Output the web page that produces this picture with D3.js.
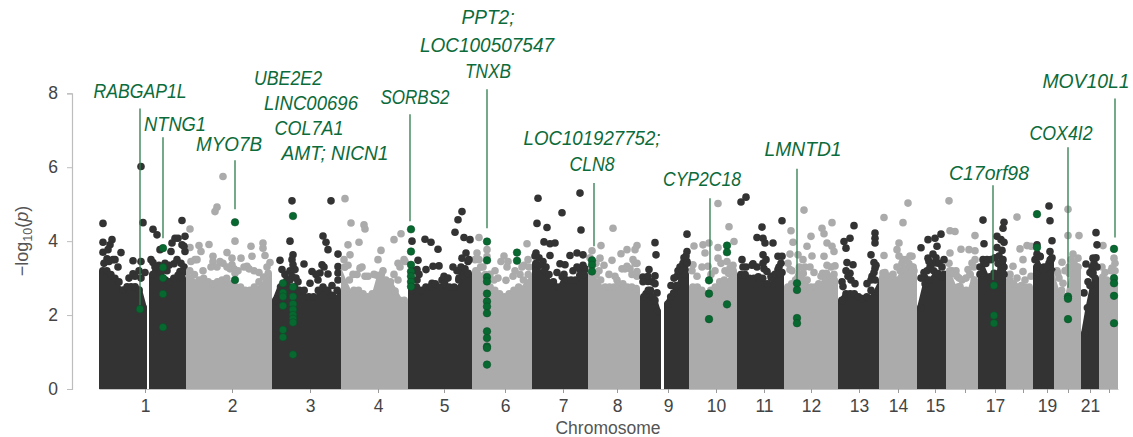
<!DOCTYPE html>
<html>
<head>
<meta charset="utf-8">
<script src="https://cdn.jsdelivr.net/npm/d3@7"></script>
<style>
  body { margin: 0; background: #fff; }
  svg { display: block; }
  text { font-family: "Liberation Sans", sans-serif; }
</style>
</head>
<body>
<svg class="manhattan" width="1133" height="437"></svg>
<script>
// genome position is in bins along the x axis, p values as -log10(p)
const tickBins = [46, 133, 211, 279, 345, 406, 464, 518, 569, 617, 665, 712, 760, 799, 836, 866, 896, 924, 948, 969, 991, 1010];
const tickNames = ['1', '2', '3', '4', '5', '6', '7', '8', '9', '10', '11', '12', '13', '14', '15', '', '17', '', '19', '', '21', ''];
const yTicks = [0, 2, 4, 6, 8];

// one entry per contiguous run of SNPs, chr 1 and 9 split at the centromere gap
const segChr = [1, 1, 2, 3, 4, 5, 6, 7, 8, 9, 9, 10, 11, 12, 13, 14, 15, 16, 17, 18, 19, 20, 21, 22];
const segStart = [0, 50, 87, 173, 242, 309, 373, 433, 489, 541, 565, 590, 638, 685, 739, 780, 818, 847, 879, 907, 934, 955, 982, 1000];
const segEnd = [48, 87, 173, 242, 309, 373, 433, 489, 541, 562, 590, 638, 685, 739, 780, 818, 847, 879, 907, 934, 955, 982, 1000, 1019];
const segTops = [
  [3.3, 3.3, 3.2, 3.1, 3.0, 2.78, 2.87, 2.87, 2.87, 2.78, 2.3],
  [3.2, 3.4, 3.3, 3.05, 3.0, 3.1, 3.18, 3.1],
  [3.3, 3.2, 3.05, 3.1, 3.0, 2.95, 3.0, 3.05, 3.1, 2.95, 2.86, 2.86, 2.77, 2.77, 2.86, 3.0, 3.13, 3.23],
  [2.5, 2.86, 2.95, 3.05, 2.86, 2.77, 2.77, 2.6, 2.6, 2.77, 2.86, 2.77, 2.64, 2.77],
  [3.4, 3.05, 2.77, 2.77, 2.68, 2.6, 2.68, 3.18, 3.2, 3.05, 3.0, 2.75, 2.5, 2.5],
  [2.77, 2.86, 2.77, 2.86, 2.86, 2.95, 2.86, 2.95, 2.86, 2.86, 3.05, 3.14, 3.23],
  [3.3, 3.4, 3.2, 2.86, 2.77, 2.68, 2.6, 2.68, 2.77, 2.86, 3.05, 3.2],
  [3.5, 3.45, 3.3, 3.2, 3.0, 2.86, 3.14, 3.05, 3.05, 3.05, 3.18, 3.2],
  [3.4, 3.2, 3.05, 2.86, 2.86, 2.86, 2.95, 2.95, 2.86, 2.86, 2.82],
  [2.6, 2.68, 2.77, 2.77, 2.6, 2.5, 2.2],
  [2.4, 2.6, 2.7, 2.9, 3.3, 3.3, 3.2],
  [2.86, 2.86, 2.77, 2.68, 2.77, 2.86, 3.0, 3.05, 3.23, 3.3],
  [3.2, 3.2, 3.1, 3.1, 3.14, 3.1, 2.95, 3.1, 3.2, 3.23],
  [2.86, 2.95, 3.05, 3.4, 3.23, 3.05, 2.86, 2.86, 2.95, 3.23, 3.23, 3.13, 3.05],
  [2.5, 2.68, 2.68, 2.68, 2.6, 2.55, 2.6, 2.77, 3.05],
  [3.13, 3.05, 3.05, 3.05, 3.3, 3.36, 3.5, 3.4],
  [2.3, 2.95, 3.05, 3.3, 3.23, 3.13],
  [3.3, 3.23, 2.86, 2.77, 2.77, 3.2, 3.05],
  [3.2, 3.5, 3.14, 3.23, 3.5, 3.58],
  [3.05, 2.95, 2.86, 2.9, 2.86, 2.86],
  [3.4, 3.68, 3.3, 3.4, 3.6],
  [3.23, 2.77, 2.6, 3.23, 3.5, 3.3],
  [1.6, 2.3, 2.9, 3.2, 3.1],
  [3.13, 3.05, 2.95, 3.05],
];

// [bin, -log10(p)] of the SNPs standing clear of the mass
const peaksDark = [
  [4, 4.48], [4, 3.97], [4, 3.7], [13, 4.04], [11, 3.9], [9, 3.77], [22, 3.69], [8, 3.52], [16, 3.5], [34, 3.47], [42, 3.45], [34, 3.12], [42, 6.02], [44, 4.5], [42, 3.0],
  [54, 4.32], [58, 4.17], [61, 3.77], [72, 3.72], [73, 3.95], [76, 4.08], [79, 4.08], [83, 3.9], [86, 3.72], [83, 4.56], [86, 4.13], [85, 3.86], [75, 3.39], [66, 3.4], [54, 3.42], [81, 3.18],
  [193, 5.09], [232, 5.09], [191, 4.0], [224, 4.14], [227, 3.97], [229, 3.77], [194, 3.63], [193, 3.5], [181, 3.48], [205, 3.38], [194, 3.36], [239, 3.65], [223, 3.36], [196, 3.23], [213, 3.18], [221, 3.14], [229, 3.11], [239, 3.31], [239, 3.14], [183, 3.23], [211, 2.86], [233, 2.8],
  [313, 4.0], [319, 3.48], [326, 4.05], [332, 3.97], [339, 3.78], [356, 4.24], [359, 4.58], [363, 4.8], [365, 4.1], [371, 4.04], [367, 3.68], [363, 3.54], [354, 3.3], [327, 3.23], [340, 3.33], [334, 3.32], [318, 3.23], [333, 2.86], [343, 2.95], [363, 3.13],
  [439, 5.16], [481, 5.3], [463, 4.77], [438, 4.48], [448, 4.37], [482, 4.3], [445, 3.98], [451, 3.93], [456, 3.95], [451, 3.61], [437, 3.68], [478, 3.68], [471, 3.61], [484, 3.63], [461, 3.39], [481, 3.24], [486, 3.23], [466, 3.36],
  [556, 3.96], [557, 3.63], [550, 3.23], [556, 3.06], [544, 3.03], [549, 2.91], [588, 4.19], [588, 3.72], [584, 3.4], [588, 3.45], [578, 3.05], [586, 3.23], [576, 2.77],
  [642, 5.06], [647, 5.19], [663, 4.38], [658, 4.1], [683, 4.55], [664, 4.08], [666, 3.95], [674, 3.95], [664, 3.63], [679, 3.59], [683, 3.59], [654, 3.39], [668, 3.18], [679, 3.23], [643, 3.5],
  [755, 4.42], [751, 4.08], [745, 3.99], [747, 3.81], [776, 4.22], [776, 4.08], [776, 3.95], [772, 3.63], [775, 3.42], [776, 3.27], [748, 3.42], [754, 3.36], [751, 3.13], [773, 3.05], [744, 2.77],
  [822, 3.82], [829, 4.04], [836, 4.08], [842, 4.19], [838, 3.86], [829, 3.54], [845, 3.5], [838, 3.41], [826, 3.0],
  [884, 4.57], [885, 3.93], [905, 4.51], [904, 4.35], [898, 4.13], [902, 4.04], [905, 3.97], [903, 3.75], [898, 3.83], [884, 3.5],
  [950, 4.95], [951, 4.55], [938, 3.9], [953, 4.01], [951, 3.72], [941, 3.59], [952, 3.5],
  [997, 4.23], [998, 3.9], [994, 3.54], [987, 3.38],
];
const peaksLight = [
  [124, 5.75], [118, 4.92], [116, 4.8], [91, 4.33], [91, 3.83], [100, 3.88], [110, 3.91], [102, 3.72], [114, 3.59], [128, 3.69], [136, 4.0], [152, 3.86], [164, 3.95], [164, 3.81], [166, 3.61], [153, 3.59], [142, 3.54], [133, 3.54], [121, 3.45], [114, 3.45], [98, 3.5], [171, 3.42], [148, 3.32], [133, 3.36], [136, 3.13],
  [246, 5.15], [252, 4.49], [265, 4.44], [266, 4.33], [260, 3.97], [249, 3.9], [251, 3.63], [282, 3.75], [279, 3.5], [261, 3.27], [266, 3.05], [295, 4.04], [302, 4.2], [299, 3.4], [306, 3.45], [299, 2.95],
  [380, 4.1], [378, 3.68], [388, 3.77], [388, 3.58], [396, 3.2], [405, 3.6], [409, 3.45], [428, 3.93], [429, 3.5], [423, 3.3], [414, 3.05], [407, 2.94], [399, 3.0],
  [514, 4.35], [502, 3.88], [493, 3.74], [538, 3.88], [528, 3.77], [536, 3.77], [522, 3.66], [501, 3.54], [513, 3.48], [528, 3.32], [534, 3.5], [538, 3.4], [523, 3.25], [516, 3.05], [538, 3.18],
  [619, 5.02], [630, 4.39], [610, 3.95], [604, 3.9], [595, 3.87], [635, 3.99], [619, 3.83], [606, 3.68], [619, 3.54], [594, 3.36], [609, 3.32], [628, 3.45], [631, 3.27],
  [705, 4.84], [733, 4.5], [692, 4.28], [723, 4.35], [725, 4.2], [712, 4.13], [694, 3.97], [708, 3.86], [728, 3.95], [733, 3.86], [691, 3.65], [699, 3.63], [713, 3.6], [725, 3.59], [735, 3.72], [691, 3.23], [736, 3.33],
  [785, 4.64], [804, 4.5], [809, 5.03], [800, 3.95], [798, 3.77], [785, 3.61], [813, 3.59], [804, 3.5], [798, 3.3], [784, 3.14],
  [850, 5.09], [851, 4.28], [856, 4.26], [851, 3.68], [876, 4.15], [862, 3.78], [870, 3.77], [876, 3.74], [869, 3.23], [858, 3.05], [873, 3.41], [861, 2.77],
  [918, 4.65], [921, 3.79], [928, 3.88], [932, 3.86], [924, 3.5], [914, 3.32], [924, 3.18], [932, 3.05],
  [969, 4.86], [969, 4.15], [980, 4.15], [974, 3.65], [979, 3.54], [963, 3.43], [966, 3.2], [976, 3.23], [964, 2.86],
  [1004, 3.88], [1015, 3.54], [1013, 3.27],
];
// the denser SNPs sitting right on top of the mass
const shouldersDark = [
  [5, 3.4], [10, 3.45], [14, 3.5], [19, 3.3], [30, 3.0], [36, 3.05], [40, 3.2], [46, 3.15], [52, 3.5], [56, 3.3], [60, 3.35], [62, 3.15], [68, 3.2], [70, 3.35], [78, 3.5], [82, 3.4], [85, 3.3], [84, 3.15],
  [191, 3.2], [193, 3.05], [197, 3.0], [199, 2.9], [186, 3.1], [188, 2.95], [217, 3.1], [225, 3.3], [219, 2.95], [239, 2.95],
  [315, 3.2], [320, 3.1], [318, 2.95], [345, 3.05], [349, 3.0], [358, 3.2], [362, 3.3], [366, 3.25], [369, 3.45], [370, 3.5], [360, 3.0], [368, 3.05],
  [436, 3.6], [440, 3.55], [444, 3.45], [447, 3.3], [458, 3.15], [465, 3.1], [474, 3.2], [478, 3.3], [484, 3.35], [486, 3.25],
  [544, 2.9], [549, 3.05], [553, 2.9], [556, 2.85], [558, 2.6], [572, 2.8], [575, 3.0], [579, 3.2], [582, 3.1], [585, 3.55], [587, 3.6], [588, 3.4], [581, 3.3],
  [644, 3.3], [647, 3.3], [653, 3.35], [658, 3.3], [664, 3.4], [667, 3.5], [665, 3.25], [672, 3.05], [676, 3.1], [680, 3.3], [682, 3.4], [683, 3.15],
  [743, 2.9], [747, 3.2], [749, 3.05], [752, 2.95], [756, 2.85], [768, 2.85], [772, 2.95], [775, 3.15], [777, 3.35],
  [822, 3.0], [825, 3.15], [828, 3.2], [831, 3.3], [834, 3.4], [837, 3.55], [840, 3.4], [843, 3.3], [845, 3.1], [834, 3.65], [830, 3.45],
  [881, 3.3], [885, 3.4], [888, 3.5], [892, 3.5], [896, 3.55], [900, 3.6], [904, 3.5], [905, 3.3], [902, 3.3], [905, 3.1], [905, 2.9], [905, 2.7], [881, 3.1],
  [936, 3.5], [938, 3.65], [940, 3.3], [950, 3.4], [953, 3.2], [945, 3.3], [953, 3.55],
  [989, 2.9], [991, 3.15], [993, 3.3], [995, 3.4], [997, 3.55], [998, 3.3], [994, 3.15], [985, 2.6],
];
const shouldersLight = [
  [92, 3.45], [96, 3.5], [104, 3.2], [112, 3.3], [118, 3.3], [124, 3.4], [128, 3.3], [131, 3.25], [135, 3.25], [139, 3.2], [145, 3.3], [150, 3.25], [155, 3.2], [160, 3.15], [168, 3.3],
  [245, 3.5], [249, 3.35], [254, 3.1], [258, 3.1], [263, 3.3], [269, 3.05], [275, 3.1], [284, 3.2], [295, 3.1], [301, 3.3], [305, 3.5],
  [376, 3.5], [380, 3.5], [384, 3.3], [391, 3.1], [395, 2.95], [402, 3.45], [408, 3.3], [416, 3.2], [421, 3.1], [425, 3.35], [430, 3.3],
  [491, 3.55], [497, 3.4], [500, 3.2], [505, 3.35], [510, 3.1], [518, 2.95], [526, 3.25], [531, 3.25], [536, 3.4], [538, 3.05], [533, 3.1],
  [593, 3.2], [598, 3.05], [603, 3.3], [612, 3.1], [616, 3.2], [622, 3.4], [626, 3.2], [634, 3.35],
  [689, 3.4], [693, 3.2], [704, 3.5], [706, 3.3], [711, 3.3], [715, 3.15], [722, 3.05], [728, 3.35], [732, 3.3], [735, 3.1],
  [786, 3.15], [790, 3.05], [794, 3.1], [800, 3.6], [803, 3.4], [807, 3.5], [811, 3.6], [813, 3.3], [815, 3.2],
  [850, 3.4], [853, 3.2], [857, 3.2], [860, 3.0], [863, 2.95], [867, 3.0], [871, 3.1], [875, 3.3], [876, 3.5],
  [911, 3.1], [918, 3.0], [926, 2.95],
  [958, 3.2], [960, 3.0], [972, 3.5], [975, 3.4], [978, 3.3], [979, 3.3], [970, 3.3],
  [1003, 3.3], [1006, 3.15], [1012, 3.2], [1016, 3.4], [1016, 3.2],
];
// highlighted SNPs in the candidate genes
const hits = [
  [41, 2.16], [64, 3.81], [64, 3.29], [64, 3.0], [64, 2.57], [64, 1.67],
  [136, 4.51], [136, 2.95],
  [184, 2.86], [184, 2.6], [184, 2.5], [184, 2.25], [184, 1.6], [184, 1.4],
  [194, 4.68], [194, 2.76], [194, 2.5], [194, 2.3], [194, 2.15], [194, 2.0], [194, 1.9], [194, 1.8], [194, 0.93],
  [312, 4.32], [312, 3.72], [312, 3.36], [312, 3.18], [312, 3.05], [312, 2.9], [312, 2.77],
  [388, 3.99], [388, 3.48], [388, 3.03], [388, 2.91], [388, 2.58], [388, 2.37], [388, 2.23], [388, 2.05], [388, 1.56], [388, 1.38], [388, 1.15], [388, 1.11], [388, 0.66],
  [418, 3.69], [418, 3.47],
  [493, 3.48], [493, 3.36], [493, 3.18],
  [610, 2.94], [610, 2.58], [610, 1.89], [628, 3.88], [628, 3.7], [628, 2.29],
  [698, 2.86], [698, 2.68], [698, 1.92], [698, 1.78],
  [895, 2.8], [895, 1.99], [895, 1.78],
  [938, 4.73], [938, 3.83],
  [969, 2.5], [969, 2.44], [969, 1.89],
  [1015, 3.79], [1015, 3.0], [1015, 2.86], [1015, 2.52], [1015, 1.78],
];

const geneNames = ['RABGAP1L', 'NTNG1', 'MYO7B', 'UBE2E2', 'LINC00696', 'COL7A1', 'AMT; NICN1', 'SORBS2', 'PPT2;', 'LOC100507547', 'TNXB', 'LOC101927752;', 'CLN8', 'CYP2C18', 'LMNTD1', 'C17orf98', 'COX4I2', 'MOV10L1'];
// [bin, upper end, lower end] of the lines from the names down to the SNPs
const leaders = [
  [41, 7.59, 2.16], [64, 6.81, 4.08], [136, 6.19, 4.86], [311, 7.43, 4.54], [388, 8.11, 4.35], [495, 5.57, 3.86],
  [611, 5.16, 2.97], [698, 5.96, 2.95], [894, 5.51, 2.95], [969, 6.54, 2.74], [1016, 7.86, 4.1],
];

const svg = d3.select('.manhattan');
const x = d3.scaleLinear().domain([0, 1019]).range([99, 1118]);
const y = d3.scaleLinear().domain([0, 8]).range([389, 93.3]);

const DARK = '#333333';
const LIGHT = '#ababab';
const GREEN = '#07692f';
const dotR = 3.8;
const colour = chr => (chr % 2 ? DARK : LIGHT);

const drawDots = (data, fill) => svg.append('g')
  .selectAll('circle')
  .data(data)
  .join('circle')
  .attr('cx', d => x(d[0]))
  .attr('cy', d => y(d[1]))
  .attr('r', dotR)
  .attr('fill', fill);

drawDots(peaksLight, LIGHT);
drawDots(shouldersLight, LIGHT);
drawDots(peaksDark, DARK);
drawDots(shouldersDark, DARK);

// the mass of SNPs: a solid body with a row of dots along its upper edge
const mass = svg.append('g');
segTops.forEach((tops, s) => {
  const xSeg = d3.scalePoint().domain(d3.range(tops.length)).range([x(segStart[s]), x(segEnd[s])]);
  const xDot = d3.scalePoint().domain(d3.range(tops.length)).range([x(segStart[s]) + dotR, x(segEnd[s]) - dotR]);
  const body = d3.area()
    .x((d, i) => xSeg(i))
    .y0(y(0))
    .y1(d => y(d) + dotR);

  mass.append('path')
    .attr('d', body(tops))
    .attr('fill', colour(segChr[s]));

  mass.append('g')
    .selectAll('circle')
    .data(tops)
    .join('circle')
    .attr('cx', (d, i) => xDot(i))
    .attr('cy', d => y(d) + dotR)
    .attr('r', dotR)
    .attr('fill', colour(segChr[s]));
});

// y axis
const yAxis = svg.append('g')
  .attr('transform', `translate(72, 0)`)
  .call(d3.axisLeft(y).tickValues(yTicks).tickSize(5).tickPadding(9));
yAxis.select('.domain').attr('stroke', '#bdbdbd').attr('stroke-width', 1.2);
yAxis.selectAll('line').attr('stroke', '#bdbdbd');
yAxis.selectAll('text').attr('font-size', 17.5).attr('fill', '#444');
yAxis.attr('font-family', null);

// x axis
const xAxis = svg.append('g')
  .attr('transform', `translate(0, ${y(0)})`)
  .call(d3.axisBottom(x).tickValues(tickBins).tickFormat((d, i) => tickNames[i]).tickSize(4).tickPadding(7).tickSizeOuter(0));
xAxis.select('.domain').attr('stroke', '#c4c4c4');
xAxis.selectAll('line').attr('stroke', '#9a9a9a');
xAxis.selectAll('text').attr('font-size', 17.5).attr('fill', '#444');
xAxis.attr('font-family', null);

svg.append('text')
  .attr('x', 608)
  .attr('y', 434)
  .attr('text-anchor', 'middle')
  .attr('font-size', 17.5)
  .attr('fill', '#555')
  .text('Chromosome');

const yLabel = svg.append('text')
  .attr('transform', 'translate(28, 241) rotate(-90)')
  .attr('text-anchor', 'middle')
  .attr('font-size', 18)
  .attr('fill', '#555');
yLabel.append('tspan').text('\u2212log');
yLabel.append('tspan').attr('font-size', 12.5).attr('dy', 4).text('10');
yLabel.append('tspan').attr('dy', -4).text('(');
yLabel.append('tspan').attr('font-style', 'italic').text('p');
yLabel.append('tspan').text(')');

// leader lines
svg.append('g')
  .selectAll('line')
  .data(leaders)
  .join('line')
  .attr('x1', d => x(d[0]))
  .attr('x2', d => x(d[0]))
  .attr('y1', d => y(d[1]))
  .attr('y2', d => y(d[2]))
  .attr('stroke', '#2c7a4b')
  .attr('stroke-width', 1.3);

svg.append('g')
  .selectAll('circle')
  .data(hits)
  .join('circle')
  .attr('cx', d => x(d[0]))
  .attr('cy', d => y(d[1]))
  .attr('r', dotR)
  .attr('fill', GREEN)
  .attr('stroke', '#0d4a28')
  .attr('stroke-width', 0.5);

// gene names, placed by hand as in the figure
const nameX = [140, 175, 229, 288, 311, 309, 335, 415, 488, 487, 488, 592, 592, 702, 803, 989, 1061, 1086];
const nameY = [98, 131, 151, 85, 110, 135, 160, 104, 24, 52, 78, 145, 171, 186, 156, 180, 140, 88];
const nameW = [93, 62, 66, 68, 94, 69, 107, 69, 53, 134, 46, 137, 45, 78, 77, 80, 63, 87];
svg.append('g')
  .selectAll('text')
  .data(geneNames)
  .join('text')
  .attr('x', (d, i) => nameX[i])
  .attr('y', (d, i) => nameY[i])
  .attr('text-anchor', 'middle')
  .attr('textLength', (d, i) => nameW[i])
  .attr('lengthAdjust', 'spacingAndGlyphs')
  .attr('font-family', 'Lato, sans-serif')
  .attr('font-style', 'italic')
  .attr('font-size', 20.5)
  .attr('fill', '#0c6b3a')
  .text(d => d);
</script>
</body>
</html>
